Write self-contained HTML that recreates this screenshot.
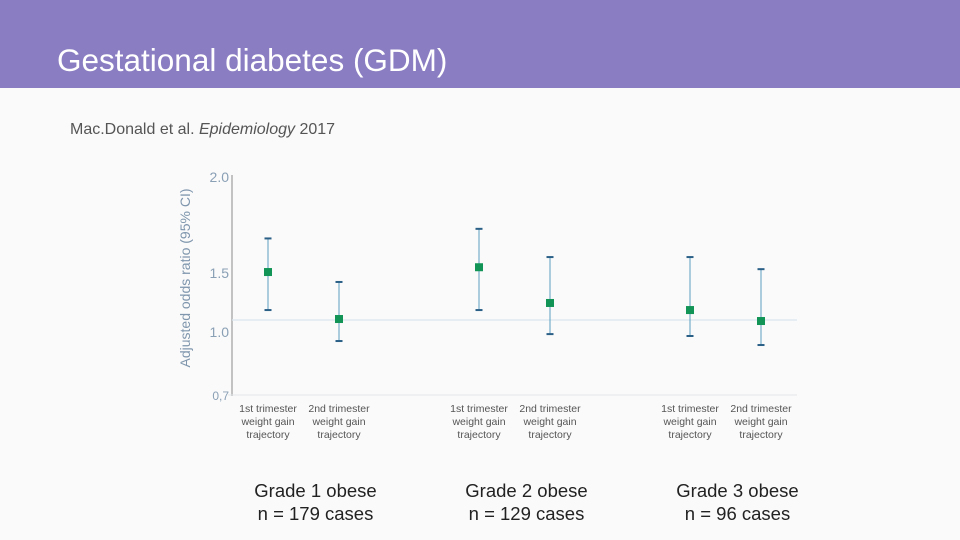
<!DOCTYPE html>
<html><head><meta charset="utf-8"><style>
body{margin:0;width:960px;height:540px;background:#fafafa;font-family:"Liberation Sans",sans-serif;position:relative;overflow:hidden}
.hdr{position:absolute;left:0;top:0;width:960px;height:88px;background:#8b7dc2}
.title{position:absolute;left:57px;top:42px;font-size:31.5px;color:#fff;white-space:nowrap}
.sub{position:absolute;left:70px;top:121px;font-size:16px;color:#555}
svg{position:absolute;left:0;top:0}
</style></head><body>
<div class="hdr"></div>
<div class="title">Gestational diabetes (GDM)</div>
<div class="sub">Mac.Donald et al. <i>Epidemiology</i> 2017</div>
<svg id="chart" width="960" height="540"></svg>
<script>
const categories=["1st trimester","2nd trimester","1st trimester","2nd trimester","1st trimester","2nd trimester"];
const estimates=[1.505,1.11,1.53,1.246,1.186,1.093];
const upper=[1.68,1.424,1.73,1.583,1.583,1.52];
const lower=[1.186,0.957,1.186,0.99,0.981,0.938];
const tickVals=[2.0,1.5,1.0,0.7];
const tickLabels=["2.0","1.5","1.0","0,7"];
const refValue=1.102;
const groups=["Grade 1 obese","Grade 2 obese","Grade 3 obese"];
const groupN=["n = 179 cases","n = 129 cases","n = 96 cases"];

const NS="http://www.w3.org/2000/svg";
const svg=document.getElementById('chart');
const kv=[0.7,1.0,1.5,2.0], kp=[395,332,273,177];
function y(v){for(let i=0;i<3;i++){if(v<=kv[i+1]||i==2){return kp[i]+(v-kv[i])/(kv[i+1]-kv[i])*(kp[i+1]-kp[i]);}}}
function x(i){return 268+Math.floor(i/2)*211+(i%2)*71;}
function mk(t,a,p){const e=document.createElementNS(NS,t);for(const k in a)e.setAttribute(k,a[k]);(p||svg).appendChild(e);return e;}

let e=mk('line',{x1:232,y1:175,x2:232,y2:396,stroke:'#b0b0b0','stroke-width':1.5});


e=mk('line',{x1:228,y1:395,x2:797,y2:395,stroke:'#e2e6ea','stroke-width':1});


e=mk('line',{x1:232,y1:y(refValue),x2:797,y2:y(refValue),stroke:'#dbe6f0','stroke-width':1.2});


tickVals.forEach((v,i)=>{
 const t=mk('text',{x:229,y:y(v)+5,'font-size':i==3?12:14,fill:'#8aa0b5','text-anchor':'end'});t.textContent=tickLabels[i];
 
 
});
const yt=mk('text',{x:0,y:0,'font-size':14,fill:'#7f96ad','text-anchor':'middle',transform:'translate(190,278) rotate(-90)'});
yt.textContent='Adjusted odds ratio (95% CI)';


categories.forEach((c,i)=>{
 const cx=x(i);
 const g=mk('g',{});
 
 
 mk('line',{x1:cx,y1:y(upper[i]),x2:cx,y2:y(lower[i]),stroke:'#5a9ec0','stroke-width':1},g);
 mk('line',{x1:cx-3.5,y1:y(upper[i]),x2:cx+3.5,y2:y(upper[i]),stroke:'#2a5f86','stroke-width':2},g);
 mk('line',{x1:cx-3.5,y1:y(lower[i]),x2:cx+3.5,y2:y(lower[i]),stroke:'#2a5f86','stroke-width':2},g);
 const p=mk('rect',{x:cx-4,y:y(estimates[i])-4,width:8,height:8,fill:'#119455'});
 
 
 const t=mk('text',{x:cx,y:412,'font-size':10.5,fill:'#555','text-anchor':'middle'});
 
 
 [c,'weight gain','trajectory'].forEach((s,j)=>{const ts=mk('tspan',{x:cx,dy:j?13:0},t);ts.textContent=s;});
});
groups.forEach((g,k)=>{
 const cx=(x(2*k)+x(2*k+1))/2+12;
 const t=mk('text',{x:cx,y:497,'font-size':18.5,fill:'#222','text-anchor':'middle'});
 
 
 const a=mk('tspan',{x:cx,dy:0},t);a.textContent=g;
 const b=mk('tspan',{x:cx,dy:23},t);b.textContent=groupN[k];
});
</script>
</body></html>
